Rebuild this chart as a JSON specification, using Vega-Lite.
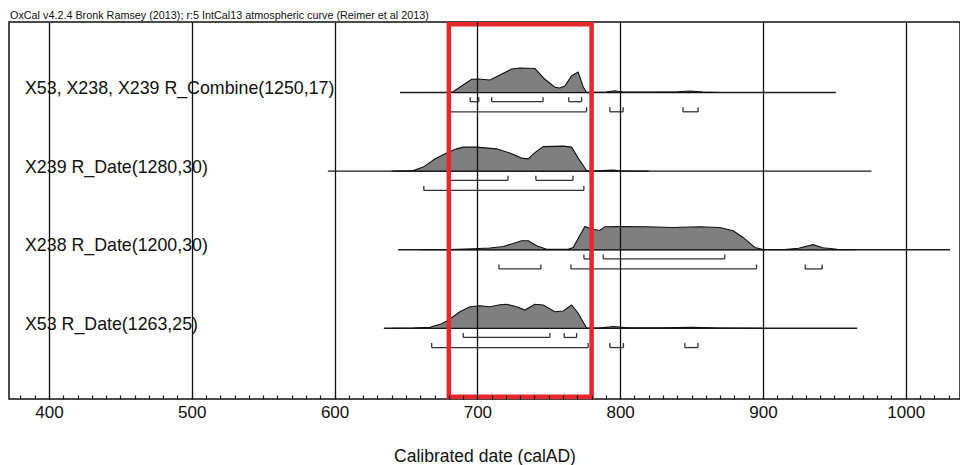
{
  "$schema": "https://vega.github.io/schema/vega-lite/v6.json",
  "width": 951,
  "height": 377,
  "autosize": {"type": "none"},
  "padding": {"left": 9, "top": 22, "right": 0, "bottom": 66},
  "background": "white",
  "config": {"view": {"stroke": "#111", "strokeWidth": 1.5}, "font": "Liberation Sans"},
  "title": {"text": "OxCal v4.2.4 Bronk Ramsey (2013); r:5 IntCal13 atmospheric curve (Reimer et al 2013)", "anchor": "start", "frame": "bounds", "font": "Liberation Sans", "fontSize": 10.8, "fontWeight": "normal", "color": "#111", "baseline": "alphabetic", "offset": 3.5, "dy": 11, "dx": 1},
  "datasets": {
    "rows": [
      {"r": 3, "label": "X53, X238, X239 R_Combine(1250,17)", "start": 645.8, "end": 951},
      {"r": 2, "label": "X239 R_Date(1280,30)", "start": 595.3, "end": 976},
      {"r": 1, "label": "X238 R_Date(1200,30)", "start": 644.6, "end": 1031},
      {"r": 0, "label": "X53 R_Date(1263,25)", "start": 634.5, "end": 966}
    ],
    "dens": [
      {"r": 3, "year": 680.5, "p": 0}, {"r": 3, "year": 683, "p": 0.03}, {"r": 3, "year": 690, "p": 0.3}, {"r": 3, "year": 696, "p": 0.53}, {"r": 3, "year": 700.6, "p": 0.54}, {"r": 3, "year": 708.8, "p": 0.5}, {"r": 3, "year": 715.8, "p": 0.7}, {"r": 3, "year": 724, "p": 0.94}, {"r": 3, "year": 729.8, "p": 0.98}, {"r": 3, "year": 740.3, "p": 0.96}, {"r": 3, "year": 747.3, "p": 0.53}, {"r": 3, "year": 754.3, "p": 0.21}, {"r": 3, "year": 757.8, "p": 0.18}, {"r": 3, "year": 761.3, "p": 0.26}, {"r": 3, "year": 766, "p": 0.67}, {"r": 3, "year": 770.6, "p": 0.82}, {"r": 3, "year": 774.1, "p": 0.23}, {"r": 3, "year": 776.5, "p": 0.0}, {"r": 3, "year": 780, "p": 0.01}, {"r": 3, "year": 790, "p": 0.02}, {"r": 3, "year": 796, "p": 0.07}, {"r": 3, "year": 802, "p": 0.02}, {"r": 3, "year": 820, "p": 0.02}, {"r": 3, "year": 840, "p": 0.03}, {"r": 3, "year": 849, "p": 0.06}, {"r": 3, "year": 858, "p": 0.02}, {"r": 3, "year": 870, "p": 0},
      {"r": 2, "year": 640, "p": 0}, {"r": 2, "year": 655.1, "p": 0.02}, {"r": 2, "year": 662.1, "p": 0.16}, {"r": 2, "year": 670.2, "p": 0.48}, {"r": 2, "year": 678.4, "p": 0.72}, {"r": 2, "year": 685.4, "p": 0.89}, {"r": 2, "year": 690.1, "p": 0.96}, {"r": 2, "year": 699.4, "p": 0.96}, {"r": 2, "year": 713.4, "p": 0.89}, {"r": 2, "year": 722.8, "p": 0.72}, {"r": 2, "year": 731, "p": 0.52}, {"r": 2, "year": 735.6, "p": 0.49}, {"r": 2, "year": 740.3, "p": 0.74}, {"r": 2, "year": 746.1, "p": 0.98}, {"r": 2, "year": 760.1, "p": 1.0}, {"r": 2, "year": 766, "p": 0.96}, {"r": 2, "year": 770.6, "p": 0.52}, {"r": 2, "year": 776.5, "p": 0.02}, {"r": 2, "year": 780, "p": 0}, {"r": 2, "year": 795, "p": 0.04}, {"r": 2, "year": 800, "p": 0.01}, {"r": 2, "year": 820, "p": 0},
      {"r": 1, "year": 660, "p": 0}, {"r": 1, "year": 680, "p": 0.01}, {"r": 1, "year": 697.1, "p": 0.04}, {"r": 1, "year": 708.8, "p": 0.07}, {"r": 1, "year": 718.1, "p": 0.13}, {"r": 1, "year": 725.1, "p": 0.25}, {"r": 1, "year": 731, "p": 0.36}, {"r": 1, "year": 735.6, "p": 0.36}, {"r": 1, "year": 741.5, "p": 0.16}, {"r": 1, "year": 748.5, "p": 0.02}, {"r": 1, "year": 763.6, "p": 0.02}, {"r": 1, "year": 767.1, "p": 0.09}, {"r": 1, "year": 775.3, "p": 0.93}, {"r": 1, "year": 780, "p": 0.83}, {"r": 1, "year": 785.8, "p": 0.77}, {"r": 1, "year": 789.3, "p": 0.92}, {"r": 1, "year": 799.8, "p": 0.93}, {"r": 1, "year": 818.5, "p": 0.92}, {"r": 1, "year": 837.1, "p": 0.89}, {"r": 1, "year": 855.8, "p": 0.92}, {"r": 1, "year": 869.8, "p": 0.89}, {"r": 1, "year": 879.1, "p": 0.76}, {"r": 1, "year": 886.1, "p": 0.49}, {"r": 1, "year": 894.3, "p": 0.09}, {"r": 1, "year": 900.1, "p": 0.01}, {"r": 1, "year": 915, "p": 0.01}, {"r": 1, "year": 925, "p": 0.06}, {"r": 1, "year": 935, "p": 0.2}, {"r": 1, "year": 942, "p": 0.08}, {"r": 1, "year": 952, "p": 0.02}, {"r": 1, "year": 965, "p": 0},
      {"r": 0, "year": 640, "p": 0}, {"r": 0, "year": 655.1, "p": 0.01}, {"r": 0, "year": 666.8, "p": 0.04}, {"r": 0, "year": 674.9, "p": 0.18}, {"r": 0, "year": 679.6, "p": 0.32}, {"r": 0, "year": 687.8, "p": 0.66}, {"r": 0, "year": 694.8, "p": 0.86}, {"r": 0, "year": 701.8, "p": 0.9}, {"r": 0, "year": 708.8, "p": 0.86}, {"r": 0, "year": 715.8, "p": 0.94}, {"r": 0, "year": 720.5, "p": 0.96}, {"r": 0, "year": 727.5, "p": 0.86}, {"r": 0, "year": 733.3, "p": 0.73}, {"r": 0, "year": 740.3, "p": 0.96}, {"r": 0, "year": 746.1, "p": 0.93}, {"r": 0, "year": 754.3, "p": 0.66}, {"r": 0, "year": 760.1, "p": 0.69}, {"r": 0, "year": 766, "p": 0.93}, {"r": 0, "year": 770.6, "p": 0.6}, {"r": 0, "year": 776.5, "p": 0.01}, {"r": 0, "year": 785, "p": 0.01}, {"r": 0, "year": 795.6, "p": 0.07}, {"r": 0, "year": 805, "p": 0.02}, {"r": 0, "year": 830, "p": 0.02}, {"r": 0, "year": 850, "p": 0.04}, {"r": 0, "year": 870, "p": 0.01}, {"r": 0, "year": 900, "p": 0}
    ],
    "ranges": [
      {"r": 3, "level": 68, "from": 695, "to": 701}, {"r": 3, "level": 68, "from": 710, "to": 746}, {"r": 3, "level": 68, "from": 764, "to": 773},
      {"r": 3, "level": 95, "from": 680.8, "to": 776.5}, {"r": 3, "level": 95, "from": 792.8, "to": 802.1}, {"r": 3, "level": 95, "from": 844, "to": 854.6},
      {"r": 2, "level": 68, "from": 681, "to": 721.5}, {"r": 2, "level": 68, "from": 741, "to": 767},
      {"r": 2, "level": 95, "from": 662.5, "to": 774.6},
      {"r": 1, "level": 68, "from": 774.6, "to": 778.8}, {"r": 1, "level": 68, "from": 788.1, "to": 873.3},
      {"r": 1, "level": 95, "from": 715.1, "to": 744.5}, {"r": 1, "level": 95, "from": 765.5, "to": 895.5}, {"r": 1, "level": 95, "from": 929.6, "to": 941.5},
      {"r": 0, "level": 68, "from": 690.1, "to": 750.8}, {"r": 0, "level": 68, "from": 760.8, "to": 769.5},
      {"r": 0, "level": 95, "from": 668, "to": 777.6}, {"r": 0, "level": 95, "from": 792.8, "to": 802.3}, {"r": 0, "level": 95, "from": 845.3, "to": 854.5}
    ],
    "box": [{"from": 680, "to": 780}]
  },
  "layer": [
    {
      "data": {"name": "rows"},
      "mark": {"type": "rule", "color": "#1a1a1a", "strokeWidth": 1.4},
      "encoding": {
        "x": {"field": "start", "type": "quantitative", "scale": {"domain": [372, 1038], "nice": false, "zero": false},
          "axis": {"orient": "bottom", "values": [380,390,400,410,420,430,440,450,460,470,480,490,500,510,520,530,540,550,560,570,580,590,600,610,620,630,640,650,660,670,680,690,700,710,720,730,740,750,760,770,780,790,800,810,820,830,840,850,860,870,880,890,900,910,920,930,940,950,960,970,980,990,1000,1010,1020,1030],
            "tickCount": 200, "format": "d", "labelExpr": "datum.value % 100 === 0 ? datum.label : ''", "labelOverlap": false, "labelFlush": false, "labelBound": false,
            "offset": -4, "domain": false, "ticks": true, "tickSize": 4, "tickColor": "#111", "tickWidth": 1.2,
            "grid": true, "gridColor": "#111", "gridWidth": 1.3, "gridOpacity": {"condition": {"test": "datum.value % 100 !== 0", "value": 0}, "value": 1},
            "labelFont": "Liberation Sans", "labelFontSize": 17, "labelColor": "#111", "labelPadding": 5,
            "title": "Calibrated date (calAD)", "titleFont": "Liberation Sans", "titleFontSize": 17.5, "titleFontWeight": "normal", "titleColor": "#111", "titlePadding": 27, "zindex": 1}},
        "x2": {"field": "end"},
        "y": {"field": "r", "type": "quantitative", "scale": {"domain": [-0.9, 3.897], "nice": false, "zero": false}, "axis": null}
      }
    },
    {
      "data": {"name": "dens"},
      "transform": [{"calculate": "datum.r + datum.p * 0.318", "as": "top"}],
      "mark": {"type": "area", "fill": "#7f7f7f", "stroke": "#111", "strokeWidth": 1.1, "fillOpacity": 1},
      "encoding": {
        "x": {"field": "year", "type": "quantitative"},
        "y": {"field": "top", "type": "quantitative"},
        "y2": {"field": "r"},
        "detail": {"field": "r", "type": "nominal"}
      }
    },
    {
      "data": {"name": "ranges"},
      "transform": [{"calculate": "datum.r - (datum.level == 68 ? 0.117 : 0.2455)", "as": "yb"}, {"calculate": "datum.yb + 0.057", "as": "yt"}],
      "layer": [
        {"mark": {"type": "rule", "color": "#333", "strokeWidth": 1.3},
          "encoding": {"x": {"field": "from", "type": "quantitative"}, "x2": {"field": "to"}, "y": {"field": "yb", "type": "quantitative"}}},
        {"mark": {"type": "rule", "color": "#333", "strokeWidth": 1.3},
          "encoding": {"x": {"field": "from", "type": "quantitative"}, "y": {"field": "yb", "type": "quantitative"}, "y2": {"field": "yt"}}},
        {"mark": {"type": "rule", "color": "#333", "strokeWidth": 1.3},
          "encoding": {"x": {"field": "to", "type": "quantitative"}, "y": {"field": "yb", "type": "quantitative"}, "y2": {"field": "yt"}}}
      ]
    },
    {
      "data": {"name": "rows"},
      "mark": {"type": "text", "align": "left", "baseline": "alphabetic", "dy": 1.5, "font": "Liberation Sans", "fontSize": 17.8, "color": "#111"},
      "encoding": {
        "x": {"datum": 383.2, "type": "quantitative"},
        "y": {"field": "r", "type": "quantitative"},
        "text": {"field": "label"}
      }
    },
    {
      "data": {"name": "box"},
      "mark": {"type": "rect", "fill": null, "filled": false, "stroke": "#e8262b", "strokeWidth": 4.5},
      "encoding": {
        "x": {"field": "from", "type": "quantitative"},
        "x2": {"field": "to"},
        "y": {"datum": 3.868, "type": "quantitative"},
        "y2": {"datum": -0.8715}
      }
    }
  ]
}
